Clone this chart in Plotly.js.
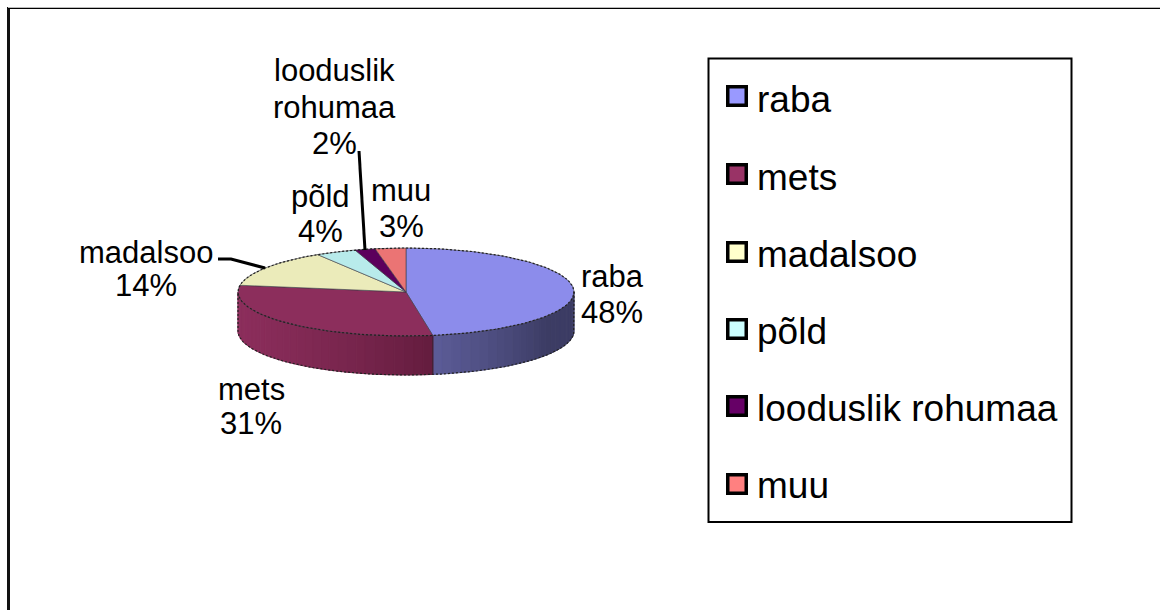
<!DOCTYPE html>
<html><head><meta charset="utf-8">
<script src="https://cdn.plot.ly/plotly-3.0.1.min.js"></script>
<style>html,body{margin:0;padding:0;background:#fff}</style>
</head><body><div id="chart" style="width:1160px;height:610px"></div>
<script>
const categories = ["raba","mets","madalsoo","põld","looduslik rohumaa","muu"];
const values = [48.4,30.6,14,4,2,3];
const legendColors = ["#9999FF","#993366","#FFFFCC","#CCFFFF","#660066","#FF8080"];
const topColors = ["#8C8CEB","#8C2E5C","#EBEBBA","#B8EBEB","#5C005C","#EB7474"];
const wallLight = [[92,92,152],[140,46,92]];
const wallDark = [[60,60,100],[100,28,62]];
const legendKeyRows = [96,174,252,329,406,484];

// pie projection (pixel space of the full-page axes)
const cx=406, cy=292, rx=168, ry=44, depth=39;
const px=a=>cx+rx*Math.sin(a), py=a=>cy-ry*Math.cos(a);
const total=values.reduce((s,v)=>s+v,0);
const traces=[];
let cum=0; const edges=[0];
values.forEach(v=>{cum+=v; edges.push(cum/total*2*Math.PI);});

// side wall, split into strips for the shading
const wallStrips=(i,from,to,n,shade)=>{
  for(let k=0;k<n;k++){
    const a0=from+(to-from)*k/n, a1=from+(to-from)*(k+1)/n, t=shade((k+0.5)/n);
    const c=wallLight[i].map((l,j)=>Math.round(l+(wallDark[i][j]-l)*t));
    const col=`rgb(${c.join(",")})`;
    traces.push({x:[px(a0),px(a1),px(a1),px(a0),px(a0)],y:[py(a0),py(a1),py(a1)+depth,py(a0)+depth,py(a0)],
      mode:"lines",fill:"toself",fillcolor:col,line:{color:col,width:1},hoverinfo:"skip",showlegend:false});
  }
};
wallStrips(0,edges[1],Math.PI/2,24,t=>Math.min(1,t*1.7));
wallStrips(1,Math.PI*1.5,edges[1],30,t=>t*t);

// top face
values.forEach((v,i)=>{
  const xs=[cx],ys=[cy],n=Math.max(6,Math.round(v*3));
  for(let k=0;k<=n;k++){const a=edges[i]+(edges[i+1]-edges[i])*k/n;xs.push(px(a));ys.push(py(a));}
  xs.push(cx);ys.push(cy);
  traces.push({x:xs,y:ys,mode:"lines",fill:"toself",fillcolor:topColors[i],
    line:{color:"rgba(60,60,70,0.6)",width:1},name:categories[i],hoverinfo:"name",showlegend:false});
});

// dotted silhouette
const arcX=[],arcY=[];
for(let k=0;k<=180;k++){const a=2*Math.PI*k/180;arcX.push(px(a));arcY.push(py(a));}
traces.push({x:arcX,y:arcY,mode:"lines",line:{color:"#222",width:1.2,dash:"2px,2px"},hoverinfo:"skip",showlegend:false});
const botX=[px(Math.PI/2)],botY=[py(Math.PI/2)];
for(let k=0;k<=90;k++){const a=Math.PI/2+Math.PI*k/90;botX.push(px(a));botY.push(py(a)+depth);}
botX.push(px(Math.PI*1.5));botY.push(py(Math.PI*1.5));
traces.push({x:botX,y:botY,mode:"lines",line:{color:"#222",width:1.2,dash:"2px,2px"},hoverinfo:"skip",showlegend:false});
traces.push({x:[px(edges[1]),px(edges[1])],y:[py(edges[1]),py(edges[1])+depth],mode:"lines",line:{color:"#3a2030",width:1},hoverinfo:"skip",showlegend:false});

// legend keys (larger than the legend's own symbol cap) and legend entries
traces.push({x:legendKeyRows.map(()=>737),y:legendKeyRows,mode:"markers",hoverinfo:"skip",showlegend:false,
  marker:{symbol:"square",size:18.5,color:legendColors,line:{color:"#000",width:3.5}}});
categories.forEach((c,i)=>traces.push({x:[null],y:[null],mode:"markers",name:c,legendgroup:c,
  marker:{symbol:"square",size:2,color:"rgba(0,0,0,0)",line:{color:"rgba(0,0,0,0)",width:0}}}));

// data labels, one annotation per line
const labelLines=[
  [[categories[0]],[612,276,612,312]],
  [[categories[1]],[251,389,251,423]],
  [[categories[2]],[146,252,146,285]],
  [[categories[3]],[320,196,320,231]],
  [["looduslik","rohumaa"],[334,70,334,107,334,143]],
  [[categories[5]],[401,190,401,226]]
];
const annotations=[];
labelLines.forEach(([lines,pos],i)=>{
  [...lines,Math.round(values[i])+"%"].forEach((t,j)=>annotations.push({xref:"x",yref:"y",x:pos[2*j],y:pos[2*j+1],text:t,
    showarrow:false,xanchor:"center",yanchor:"middle",font:{family:"Liberation Sans, Arial, sans-serif",size:31,color:"#000"}}));
});

const layout={width:1160,height:610,margin:{l:0,r:0,t:0,b:0},paper_bgcolor:"#fff",plot_bgcolor:"#fff",
  xaxis:{range:[0,1160],visible:false,fixedrange:true},
  yaxis:{range:[610,0],visible:false,fixedrange:true},
  showlegend:true,
  legend:{x:717/1160,y:1-67.5/610,xanchor:"left",yanchor:"top",bgcolor:"rgba(0,0,0,0)",tracegroupgap:26,
    font:{family:"Liberation Sans, Arial, sans-serif",size:37,color:"#000"}},
  annotations,
  shapes:[
    {type:"rect",xref:"x",yref:"y",x0:708.5,x1:1071.5,y0:58.5,y1:522,line:{color:"#000",width:2},layer:"below"},
    {type:"line",xref:"x",yref:"y",x0:8.5,x1:8.5,y0:7,y1:610,line:{color:"#111",width:3},layer:"below"},
    {type:"line",xref:"x",yref:"y",x0:8,x1:1160,y0:7.5,y1:7.5,line:{color:"#bbb",width:1},layer:"below"},
    {type:"line",xref:"x",yref:"y",x0:8,x1:1160,y0:8.5,y1:8.5,line:{color:"#000",width:1},layer:"below"},
    {type:"path",xref:"x",yref:"y",path:"M218,259 L231,259 L265,268",line:{color:"#000",width:3},layer:"above"},
    {type:"line",xref:"x",yref:"y",x0:359,y0:151,x1:365,y1:250,line:{color:"#000",width:3},layer:"above"}
  ]};
Plotly.newPlot("chart",traces,layout,{displayModeBar:false,staticPlot:true});
</script></body></html>
